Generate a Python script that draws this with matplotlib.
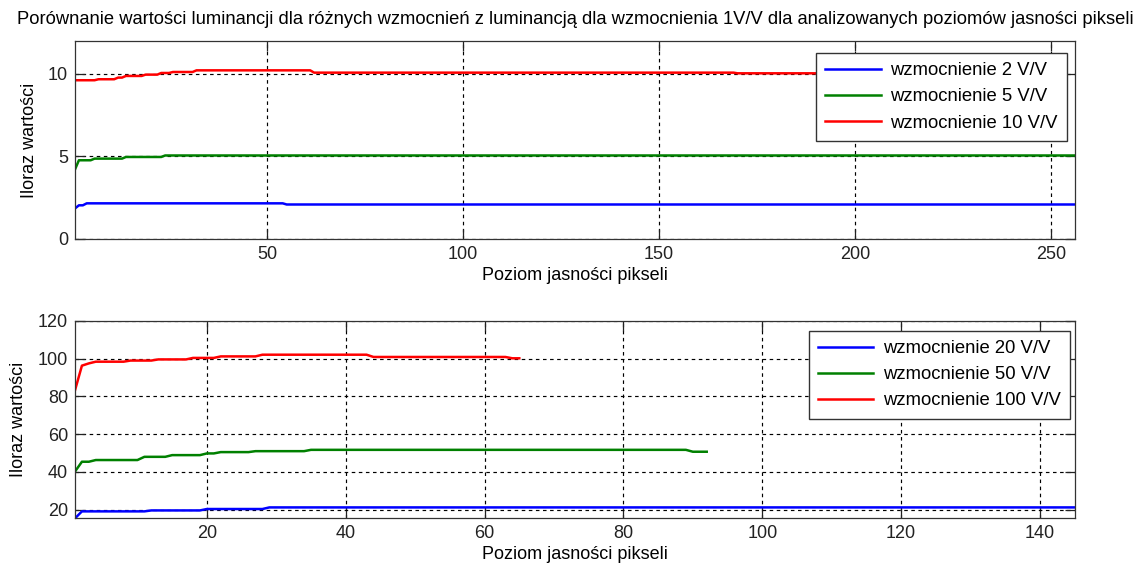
import numpy as np
import matplotlib
matplotlib.use('Agg')
import matplotlib.pyplot as plt

plt.rcParams['font.family'] = ['Liberation Sans', 'DejaVu Sans']
plt.rcParams['axes.linewidth'] = 0.9

# wzmocnienia 2, 5, 10 V/V (poziomy 1..256)
top_end = 256
g2_start = [1, 2, 4, 55]
g2_level = [1.85, 2.04, 2.16, 2.09]
g5_start = [1, 2, 6, 14, 24]
g5_level = [4.21, 4.77, 4.87, 4.97, 5.06]
g10_start = [1, 7, 12, 14, 19, 23, 26, 32, 62, 170]
g10_level = [9.62, 9.68, 9.78, 9.88, 9.96, 10.06, 10.12, 10.22, 10.08, 10.04]
g10_end = 205

# wzmocnienia 20, 50, 100 V/V (poziomy 1..145)
g20_start = [1, 2, 12, 20, 29]
g20_level = [15.4, 19.1, 19.6, 20.35, 21.2]
g20_end = 145
g50_start = [1, 2, 4, 11, 15, 20, 22, 27, 35, 90]
g50_level = [40.2, 45.4, 46.3, 48.0, 48.9, 49.8, 50.5, 51.0, 51.7, 50.7]
g50_end = 92
g100_start = [1, 2, 3, 4, 9, 13, 18, 22, 28, 44, 64]
g100_level = [83.2, 96.3, 97.5, 98.4, 99.0, 99.6, 100.4, 101.2, 102.1, 100.9, 100.2]
g100_end = 65

title = ('Porównanie wartości luminancji dla różnych wzmocnień z luminancją '
         'dla wzmocnienia 1V/V dla analizowanych poziomów jasności pikseli')
xlab = 'Poziom jasności pikseli'
ylab = 'Iloraz wartości'

colors = {'b': '#0000ff', 'g': '#008000', 'r': '#ff0000'}


def series(start, level, end):
    counts = np.diff(list(start) + [end + 1])
    y = np.repeat(level, counts)
    x = np.arange(start[0], end + 1)
    return x, y


def style(ax):
    ax.grid(True, color='k', linestyle=(0, (3, 3)), linewidth=0.85)
    ax.tick_params(direction='in', top=True, right=True, length=7,
                   width=0.9, labelsize=13, colors='#222222', pad=5)
    for s in ax.spines.values():
        s.set_color('#333333')


def legend(ax, anchor):
    leg = ax.legend(loc='upper right', bbox_to_anchor=anchor,
                    fontsize=13.3, fancybox=False, framealpha=1,
                    edgecolor='#333333', handlelength=3.0, handletextpad=0.5,
                    borderpad=0.5, labelspacing=0.5, borderaxespad=0)
    leg.get_frame().set_linewidth(1.0)


fig = plt.figure(figsize=(11.36, 5.69), dpi=100)
ax1 = fig.add_axes([0.066, 0.580, 0.880, 0.348])
ax2 = fig.add_axes([0.066, 0.089, 0.880, 0.347])

for (st, lv, en), c, lab in [((g2_start, g2_level, top_end), 'b', 'wzmocnienie 2 V/V'),
                             ((g5_start, g5_level, top_end), 'g', 'wzmocnienie 5 V/V'),
                             ((g10_start, g10_level, g10_end), 'r', 'wzmocnienie 10 V/V')]:
    x, y = series(st, lv, en)
    ax1.plot(x, y, color=colors[c], lw=1.8, label=lab)

ax1.set_xlim(1, 256)
ax1.set_ylim(0, 12)
ax1.set_xticks([50, 100, 150, 200, 250])
ax1.set_yticks([0, 5, 10])
style(ax1)
ax1.set_xlabel(xlab, fontsize=13, labelpad=3)
ax1.set_ylabel(ylab, fontsize=13, labelpad=7)
ax1.set_title(title, fontsize=13.2, pad=12)
legend(ax1, (0.992, 0.94))

for (st, lv, en), c, lab in [((g20_start, g20_level, g20_end), 'b', 'wzmocnienie 20 V/V'),
                             ((g50_start, g50_level, g50_end), 'g', 'wzmocnienie 50 V/V'),
                             ((g100_start, g100_level, g100_end), 'r', 'wzmocnienie 100 V/V')]:
    x, y = series(st, lv, en)
    ax2.plot(x, y, color=colors[c], lw=1.8, label=lab)

ax2.set_xlim(1, 145)
ax2.set_ylim(15.4, 120)
ax2.set_xticks([20, 40, 60, 80, 100, 120, 140])
ax2.set_yticks([20, 40, 60, 80, 100, 120])
style(ax2)
ax2.set_xlabel(xlab, fontsize=13, labelpad=3)
ax2.set_ylabel(ylab, fontsize=13, labelpad=8)
legend(ax2, (0.995, 0.95))

fig.savefig('out.png', dpi=100)
